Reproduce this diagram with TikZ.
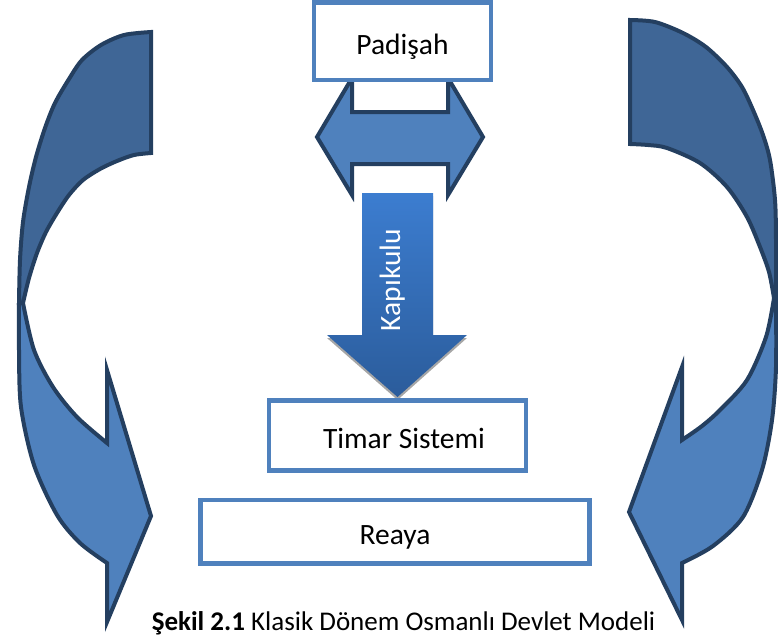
\documentclass[tikz,border=0pt]{standalone}
\usepackage{fontspec}
\setmainfont{Carlito}
\usepackage{tikz}
\definecolor{kutumavi}{HTML}{4F81BD}
\definecolor{koyubant}{HTML}{3F6696}
\definecolor{acikbant}{HTML}{4F81BD}
\definecolor{kenar}{HTML}{243F60}
\definecolor{kapiust}{HTML}{3C7DD0}
\definecolor{kapialt}{HTML}{2B5C9B}
\definecolor{golge}{HTML}{A6A6A6}

\begin{document}
\begin{tikzpicture}[line cap=round,line join=round,x=1pt,y=-1pt,
  kutu/.style={draw=kutumavi,line width=4.5pt,line join=miter,fill=white,inner sep=0pt,text height=26pt,text depth=0pt},
  bant/.style={draw=kenar,line width=4pt,line join=miter},
  etiket/.style={font=\fontsize{29.5}{35}\selectfont}]
\useasboundingbox (0,0) rectangle (778,643);
\clip (0,0) rectangle (778,643);
\filldraw[bant,fill=koyubant] plot[smooth] coordinates {(151,153) (151,32)} -- plot[smooth] coordinates {(151,32) (124,35) (101,45) (82,60) (69,79) (55,103) (45,128) (36,157) (29,187) (23,222) (20,260) (19,303)} -- plot[smooth] coordinates {(23,303) (29,278) (37,253) (46,232) (57,213) (69,195) (83,180) (100,169) (117,161) (134,155) (151,153)} -- cycle;
\filldraw[bant,fill=acikbant] plot[smooth] coordinates {(19,303) (19,350) (21,407) (34,465) (57,515) (80,543) (107,563)} -- (107,622) -- (151,516) -- (107,370) -- plot[smooth] coordinates {(107,443) (77,417) (53,387) (34,350) (23,303)} -- cycle;
\filldraw[bant,fill=koyubant] plot[smooth] coordinates {(630,144) (630,20)} -- plot[smooth] coordinates {(630,20) (655,22) (683,33) (706,47) (727,67) (742,87) (753,110) (763,135) (770,160) (775,200) (776,240) (776,298)} -- plot[smooth] coordinates {(774,298) (769,272) (760,247) (747,217) (727,187) (700,163) (667,148) (648,145) (630,144)} -- cycle;
\filldraw[bant,fill=acikbant] plot[smooth] coordinates {(776,298) (776,367) (772,420) (762,470) (743,517) (713,546) (682,563)} -- (682,620) -- (629,512) -- (682,367) -- plot[smooth] coordinates {(682,440) (702,426) (720,410) (747,380) (766,337) (774,298)} -- cycle;
\filldraw[bant,fill=acikbant] (317,137) -- (352,78) -- (352,112) -- (448,112) -- (448,78) -- (483,137) -- (448,195) -- (448,164) -- (352,164) -- (352,195) -- cycle;
\node[kutu,etiket,minimum width=177pt,minimum height=77.5pt] (padisah) at (402.5,41) {Padişah};
\fill[golge,shift={(0,3)}] (362,193) -- (433,193) -- (433,335) -- (467,335) -- (397.5,397) -- (327,335) -- (362,335) -- cycle;
\shade[top color=kapiust,bottom color=kapialt] (362,193) -- (433,193) -- (433,335) -- (467,335) -- (397.5,397) -- (327,335) -- (362,335) -- cycle;
\node[etiket,text=white,rotate=90,anchor=base] (kapikulu) at (400,280) {Kapıkulu};
\node[kutu,etiket,minimum width=257pt,minimum height=70pt] (timar) at (397.5,435.5) {\hspace*{13pt}Timar Sistemi};
\node[kutu,etiket,minimum width=389pt,minimum height=63.5pt] (reaya) at (395,531.5) {Reaya};
\node[font=\fontsize{27}{32}\selectfont,anchor=base] (sekil) at (403.5,630) {\textbf{Şekil 2.1} Klasik Dönem Osmanlı Devlet Modeli};
\end{tikzpicture}
\end{document}
